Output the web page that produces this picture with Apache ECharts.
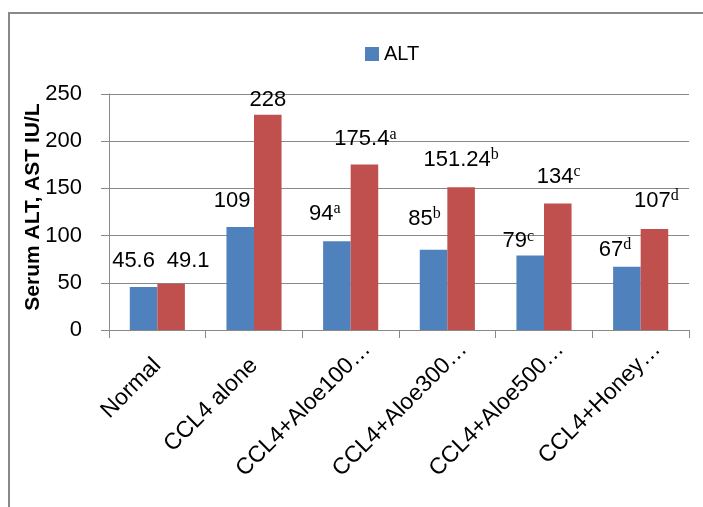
<!DOCTYPE html>
<html>
<head>
<meta charset="utf-8">
<script src="https://cdn.jsdelivr.net/npm/echarts@6/dist/echarts.min.js"></script>
<style>
  html, body { margin: 0; padding: 0; background: #ffffff; }
  #chart { width: 703px; height: 507px; }
</style>
</head>
<body>
<div id="chart"></div>
<script>
// Groups and serum enzyme levels (IU/L)
const categories = ['Normal', 'CCL4 alone', 'CCL4+Aloe100…', 'CCL4+Aloe300…', 'CCL4+Aloe500…', 'CCL4+Honey…'];
const altValues = [45.6, 109, 94, 85, 79, 67];
const astValues = [49.1, 228, 175.4, 151.24, 134, 107];
// significance letters shown as superscripts
const altMarks = ['', '', 'a', 'b', 'c', 'd'];
const astMarks = ['', '', 'a', 'b', 'c', 'd'];
const yTicks = { min: 0, max: 250, step: 50 };

// label placement tweaks: [dx, gap from bar top to label centre]
const altLabelNudge = [[-10, 26], [-8, 26], [-12, 27], [-9, 31], [-12, 14], [-12, 17]];
const astLabelNudge = [[17, 23], [0, 15], [1, 25], [0, 27], [1, 27], [2, 28]];

const BLUE = '#4F81BD';
const RED = '#C0504D';
const GRID = '#898989';
const SANS = '"Liberation Sans", Arial, sans-serif';
const SERIF = '"Liberation Serif", "Times New Roman", serif';
const LABEL_LINE = 26;
const CAT_FONT = 23;

function labelText(v, mark) {
  return mark ? '{v|' + v + '}{s|' + mark + '}' : '{v|' + v + '}';
}

function buildData(values, marks, nudges) {
  return values.map((v, i) => ({
    value: v,
    label: {
      formatter: labelText(v, marks[i]),
      offset: [nudges[i][0], -(nudges[i][1] - LABEL_LINE / 2)]
    }
  }));
}

const richStyles = {
  v: { fontFamily: SANS, fontSize: 22, color: '#000', lineHeight: LABEL_LINE },
  s: { fontFamily: SERIF, fontSize: 16, color: '#000', lineHeight: 15, verticalAlign: 'top' }
};

// truncated names let their ellipsis hang past the tick
const axisCategories = categories.map(c => c.endsWith('…')
  ? { value: c, textStyle: { padding: [0, -CAT_FONT, 0, 0] } }
  : c);

const chart = echarts.init(document.getElementById('chart'), null, { renderer: 'canvas' });

chart.setOption({
  backgroundColor: '#ffffff',
  animation: false,
  graphic: [{
    type: 'rect',
    shape: { x: 9, y: 13, width: 720, height: 520 },
    style: { fill: 'none', stroke: GRID, lineWidth: 2 },
    silent: true
  }],
  legend: {
    data: ['ALT'],
    left: 360,
    top: 39,
    icon: 'rect',
    itemWidth: 14,
    itemHeight: 14,
    textStyle: { fontFamily: SANS, fontSize: 20, color: '#000' }
  },
  grid: { left: 109, right: 14, top: 94, bottom: 177, containLabel: false },
  xAxis: {
    type: 'category',
    data: axisCategories,
    axisLine: { show: true, lineStyle: { color: GRID, width: 1 } },
    axisTick: { show: true, length: 8, alignWithLabel: false, lineStyle: { color: GRID } },
    axisLabel: {
      interval: 0,
      rotate: 45,
      margin: 32,
      fontFamily: SANS,
      fontSize: CAT_FONT,
      color: '#000'
    },
    splitLine: { show: false }
  },
  yAxis: {
    type: 'value',
    min: yTicks.min,
    max: yTicks.max,
    interval: yTicks.step,
    name: 'Serum ALT, AST IU/L',
    nameLocation: 'middle',
    nameRotate: 90,
    nameGap: 65,
    nameMoveOverlap: false,
    nameTextStyle: { fontFamily: SANS, fontSize: 21, fontWeight: 'bold', color: '#000', padding: [0, 0, 0, 10] },
    axisLine: { show: true, lineStyle: { color: GRID, width: 1 } },
    axisTick: { show: true, length: 8, lineStyle: { color: GRID } },
    axisLabel: { margin: 27, fontFamily: SANS, fontSize: 22, color: '#000' },
    splitLine: { show: true, lineStyle: { color: GRID, width: 1 } }
  },
  series: [
    {
      name: 'ALT',
      type: 'bar',
      barGap: '0%',
      barCategoryGap: '43%',
      itemStyle: { color: BLUE },
      label: { show: true, position: 'top', distance: 0, rich: richStyles },
      data: buildData(altValues, altMarks, altLabelNudge)
    },
    {
      name: 'AST',
      type: 'bar',
      barGap: '0%',
      barCategoryGap: '43%',
      itemStyle: { color: RED },
      label: { show: true, position: 'top', distance: 0, rich: richStyles },
      data: buildData(astValues, astMarks, astLabelNudge)
    }
  ]
});
</script>
</body>
</html>
